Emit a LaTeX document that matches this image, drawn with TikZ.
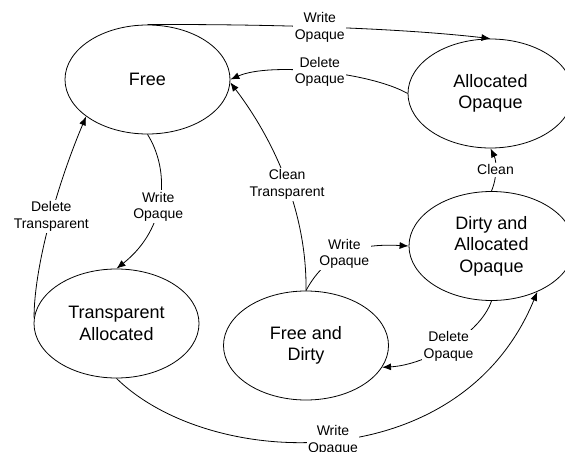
\documentclass[tikz,border=0pt]{standalone}
\usepackage{fontspec}
\setmainfont{Liberation Sans}
\usetikzlibrary{arrows.meta, shapes.geometric}

\begin{document}
\begin{tikzpicture}[
  x=1pt, y=-1pt,
  every node/.style={font=\fontsize{14}{16.8}\selectfont},
  state/.style={ellipse, draw=black, line width=0.8pt, minimum width=165pt,
                minimum height=109pt, inner sep=0pt, align=center,
                font=\fontsize{18}{21.6}\selectfont},
  lbl/.style={fill=white, inner sep=1.5pt, align=center},
  ar/.style={-{Latex[length=9pt, width=7pt]}, draw=black, line width=0.8pt}
]
\useasboundingbox (0,0) rectangle (565,452);

% states
\node[state] (free)  at (147.5,79.5) {Free};
\node[state] (alloc) at (490.5,93.5) {Allocated\\Opaque};
\node[state] (trans) at (116.5,323.5) {Transparent\\Allocated};
\node[state] (fdirty) at (306,345.5) {Free and\\Dirty};
\node[state] (dalloc) at (491.5,246) {Dirty and\\Allocated\\Opaque};

% transitions
\draw[ar] (free.north) .. controls (250,24) and (390,27) .. node[lbl] {Write\\Opaque} (alloc.north);
\draw[ar] (alloc.west) .. controls (370,72) and (270,62) .. node[lbl] {Delete\\Opaque} (free.east);
\draw[ar] (free.south) .. controls (170,170) and (168,228) .. node[lbl, pos=0.55] {Write\\Opaque} (trans.north);
\draw[ar] (trans.176) .. controls (34,270) and (55,190) .. node[lbl, pos=0.55] {Delete\\Transparent} (free.211);
\draw[ar] (fdirty.north) .. controls (307,220) and (280,148) .. node[lbl] {Clean\\Transparent} (free.-2);
\draw[ar] (fdirty.north) .. controls (325,255) and (355,243) .. node[lbl] {Write\\Opaque} (dalloc.west);
\draw[ar] (dalloc.south) .. controls (480,335) and (425,365) .. node[lbl] {Delete\\Opaque} (fdirty.-16);
\draw[ar] (dalloc.north) .. controls (497,178) and (497,162) .. node[lbl] {Clean} (alloc.south);
\draw[ar] (trans.south) .. controls (210,470) and (460,480) .. node[lbl] {Write\\Opaque} (dalloc.-45);
\end{tikzpicture}
\end{document}
